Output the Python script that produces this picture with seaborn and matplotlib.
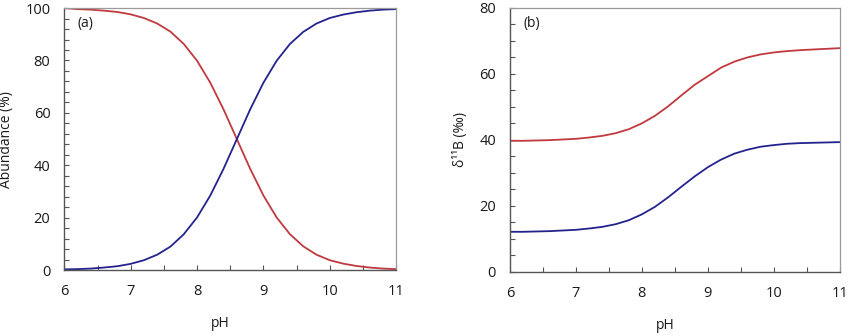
import numpy as np
import pandas as pd
import matplotlib
matplotlib.use("Agg")
import matplotlib.pyplot as plt
from matplotlib.ticker import MultipleLocator
import seaborn as sns

# ---- data ----
ph = [6.0, 6.2, 6.4, 6.6, 6.8, 7.0, 7.2, 7.4, 7.6, 7.8, 8.0, 8.2, 8.4,
      8.6, 8.8, 9.0, 9.2, 9.4, 9.6, 9.8, 10.0, 10.2, 10.4, 10.6, 10.8, 11.0]

abund_boric = [100.0, 99.6, 99.4, 99.0, 98.5, 97.6, 96.2, 94.1, 91.0, 86.3,
               79.9, 71.5, 61.3, 50.0, 38.7, 28.5, 20.1, 13.7, 9.1, 5.9,
               3.8, 2.5, 1.6, 1.0, 0.6, 0.4]
abund_borate = [0.3, 0.4, 0.6, 1.0, 1.5, 2.4, 3.8, 5.9, 9.0, 13.7,
                20.1, 28.5, 38.7, 50.0, 61.3, 71.5, 79.9, 86.3, 90.9, 94.1,
                96.2, 97.5, 98.4, 99.0, 99.4, 99.6]

d11b_boric = [39.7, 39.7, 39.8, 39.9, 40.1, 40.3, 40.7, 41.2, 42.0, 43.2,
              45.0, 47.3, 50.2, 53.5, 56.7, 59.3, 61.9, 63.7, 65.0, 65.9,
              66.5, 66.9, 67.2, 67.4, 67.6, 67.8]
d11b_borate = [12.1, 12.1, 12.2, 12.3, 12.5, 12.7, 13.1, 13.6, 14.4, 15.6,
               17.4, 19.7, 22.6, 25.8, 28.9, 31.7, 34.0, 35.8, 37.0, 37.9,
               38.4, 38.8, 39.0, 39.1, 39.2, 39.3]

series_names = ["B(OH)3", "B(OH)4-"]
panel_labels = ["(a)", "(b)"]
ylabels = ["Abundance (%)", "δ¹¹B (‰)"]
xlabel = "pH"

RED = "#c0393f"
BLUE = "#23238e"

sns.set_theme(style="white")
plt.rcParams["font.family"] = ["Open Sans", "DejaVu Sans"]

df_a = pd.DataFrame({
    "pH": ph * 2,
    "value": abund_boric + abund_borate,
    "species": [series_names[0]] * len(ph) + [series_names[1]] * len(ph),
})
df_b = pd.DataFrame({
    "pH": ph * 2,
    "value": d11b_boric + d11b_borate,
    "species": [series_names[0]] * len(ph) + [series_names[1]] * len(ph),
})

fig = plt.figure(figsize=(8.5, 3.36), dpi=100)
ax1 = fig.add_axes([0.0757, 0.196, 0.3903, 0.78])
ax2 = fig.add_axes([0.600, 0.1914, 0.388, 0.785])

palette = {series_names[0]: RED, series_names[1]: BLUE}

for ax, df, ylim, ymaj, ymin, lab, ylab in [
    (ax1, df_a, (0, 100), 20, 4, panel_labels[0], ylabels[0]),
    (ax2, df_b, (0, 80), 20, 5, panel_labels[1], ylabels[1]),
]:
    sns.lineplot(data=df, x="pH", y="value", hue="species", palette=palette,
                 ax=ax, linewidth=1.3, legend=False)
    ax.set_xlim(6, 11)
    ax.set_ylim(*ylim)
    ax.xaxis.set_major_locator(MultipleLocator(1))
    ax.xaxis.set_minor_locator(MultipleLocator(0.5))
    ax.yaxis.set_major_locator(MultipleLocator(ymaj))
    ax.yaxis.set_minor_locator(MultipleLocator(ymin))
    ax.tick_params(axis="both", which="both", direction="in", length=3.5,
                   width=0.8, color="#555555", top=False, right=False,
                   bottom=True, left=True)
    ax.tick_params(axis="both", which="major", labelsize=10.5, pad=10,
                   labelcolor="#1a1a1a")
    for side in ["left", "bottom"]:
        ax.spines[side].set_color("#555555")
        ax.spines[side].set_linewidth(1.0)
    for side in ["top", "right"]:
        ax.spines[side].set_color("#9a9a9a")
        ax.spines[side].set_linewidth(0.9)
    ax.set_xlabel(xlabel, fontsize=10, color="#1a1a1a")
    ax.xaxis.set_label_coords(0.47, -0.175)
    ax.set_ylabel(ylab, fontsize=10, labelpad=8, color="#1a1a1a")
    ax.text(0.04, 0.94, lab, transform=ax.transAxes, fontsize=10,
            ha="left", va="center", color="#1a1a1a")
    ax.grid(False)

fig.savefig("out.png", dpi=100)
